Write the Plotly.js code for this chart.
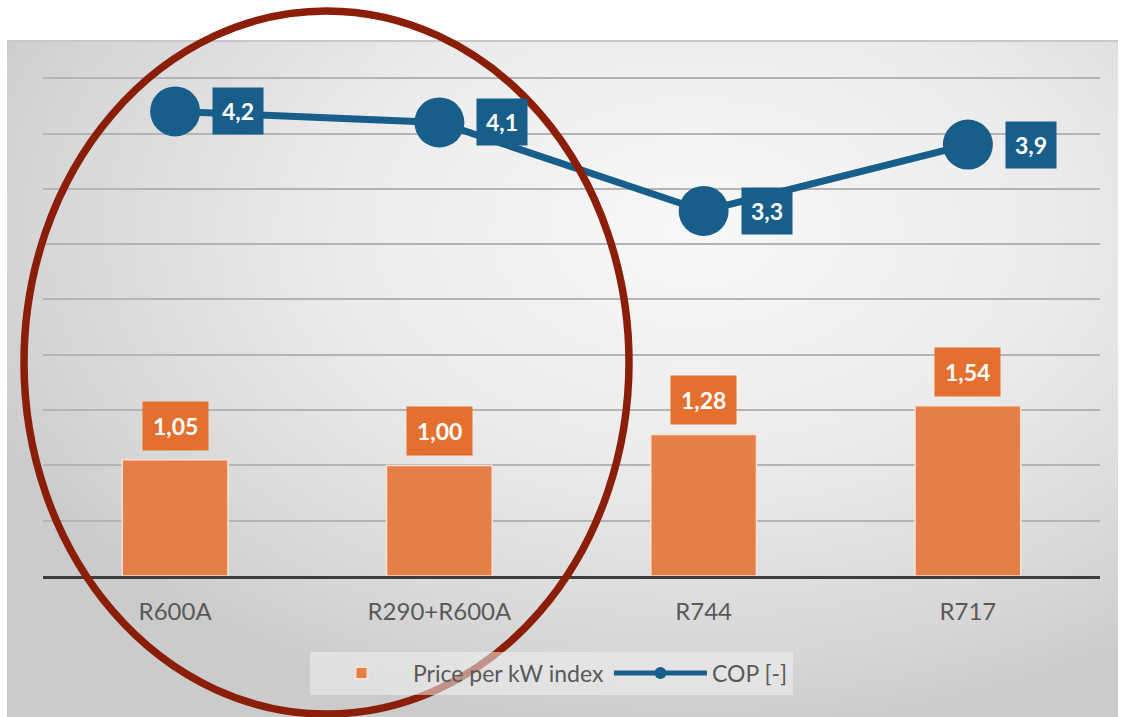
<!DOCTYPE html>
<html>
<head>
<meta charset="utf-8">
<script src="https://cdn.plot.ly/plotly-3.0.1.min.js"></script>
<style>
  html, body { margin: 0; padding: 0; background: #ffffff; }
  #wrap { position: relative; width: 1122px; height: 717px; overflow: hidden; }
  #panel {
    position: absolute; left: 7px; top: 40px; width: 1111px; height: 677px;
    background: radial-gradient(ellipse 70% 75% at 62% 28%, #f8f8f8 0%, #ececec 45%, #d6d6d6 85%, #cbcbcb 100%);
    border-top: 2px solid #c8c8c8;
    box-sizing: border-box;
  }
  #chart { position: absolute; left: 0; top: 0; width: 1122px; height: 717px; }
</style>
</head>
<body>
<div id="wrap">
  <div id="panel"></div>
  <div id="chart"></div>
</div>
<script>
// ---- data ----
const categories = ['R600A', 'R290+R600A', 'R744', 'R717'];
const priceIndex = [1.05, 1.00, 1.28, 1.54];
const cop = [4.2, 4.1, 3.3, 3.9];
const seriesNames = ['Price per kW index', 'COP [-]'];

const fmt = (v, d) => v.toFixed(d).replace('.', ',');

const barColor = '#E67E47';
const barLabelColor = '#E4702F';
const copColor = '#175E8A';
const fontFam = 'Lato, "Open Sans", sans-serif';

const traces = [
  {
    type: 'bar',
    name: seriesNames[0],
    x: categories,
    y: priceIndex,
    width: 0.4,
    marker: { color: barColor, line: { color: '#fbe3d2', width: 1.5 } },
    hoverinfo: 'skip'
  },
  {
    type: 'scatter',
    mode: 'lines+markers',
    name: seriesNames[1],
    x: categories,
    y: cop,
    line: { color: copColor, width: 7 },
    marker: { color: copColor, size: 50 },
    cliponaxis: false,
    hoverinfo: 'skip'
  }
];

const annotations = [];
categories.forEach((c, i) => {
  annotations.push({
    x: c, y: priceIndex[i], xref: 'x', yref: 'y',
    text: '<b>' + fmt(priceIndex[i], 2) + '</b>',
    showarrow: false, yanchor: 'bottom', yshift: 9,
    bgcolor: barLabelColor, borderpad: 10,
    font: { family: fontFam, size: 23, color: '#ffffff' }
  });
  annotations.push({
    x: c, y: cop[i], xref: 'x', yref: 'y',
    text: '<b>' + fmt(cop[i], 1) + '</b>',
    showarrow: false, xanchor: 'center', yanchor: 'middle', xshift: 63,
    bgcolor: copColor, borderpad: 9,
    font: { family: fontFam, size: 23, color: '#ffffff' }
  });
});

const layout = {
  width: 1122, height: 717,
  margin: { l: 43, r: 22, t: 76, b: 141, pad: 0 },
  paper_bgcolor: 'rgba(0,0,0,0)',
  plot_bgcolor: 'rgba(0,0,0,0)',
  font: { family: fontFam, color: '#595959' },
  showlegend: true,
  legend: {
    orientation: 'h', x: (310 - 43) / 1057, xanchor: 'left', y: -0.194, yanchor: 'middle',
    bgcolor: 'rgba(240,240,240,0.55)',
    font: { family: fontFam, size: 23, color: '#595959' },
    itemsizing: 'constant', traceorder: 'normal',
    itemwidth: 93
  },
  xaxis: {
    type: 'category',
    showgrid: false,
    showline: true, linecolor: '#3d3d3d', linewidth: 3,
    ticks: '', ticklabelstandoff: 12,
    tickfont: { family: fontFam, size: 24, color: '#595959' },
    fixedrange: true
  },
  yaxis: {
    range: [0, 4.52],
    dtick: 0.5,
    showticklabels: false,
    showgrid: true, gridcolor: '#b4b4b4', gridwidth: 2,
    zeroline: false,
    fixedrange: true
  },
  bargap: 0.6,
  annotations: annotations,
  shapes: [
    {
      type: 'circle', xref: 'paper', yref: 'paper',
      x0: (24 - 43) / 1057, x1: (629 - 43) / 1057,
      y0: (576 - 714) / 500, y1: (576 - 11) / 500,
      line: { color: '#8B1E08', width: 7.5 },
      fillcolor: 'rgba(0,0,0,0)',
      layer: 'above'
    }
  ]
};

Plotly.newPlot('chart', traces, layout, { displayModeBar: false, staticPlot: true });
</script>
</body>
</html>
